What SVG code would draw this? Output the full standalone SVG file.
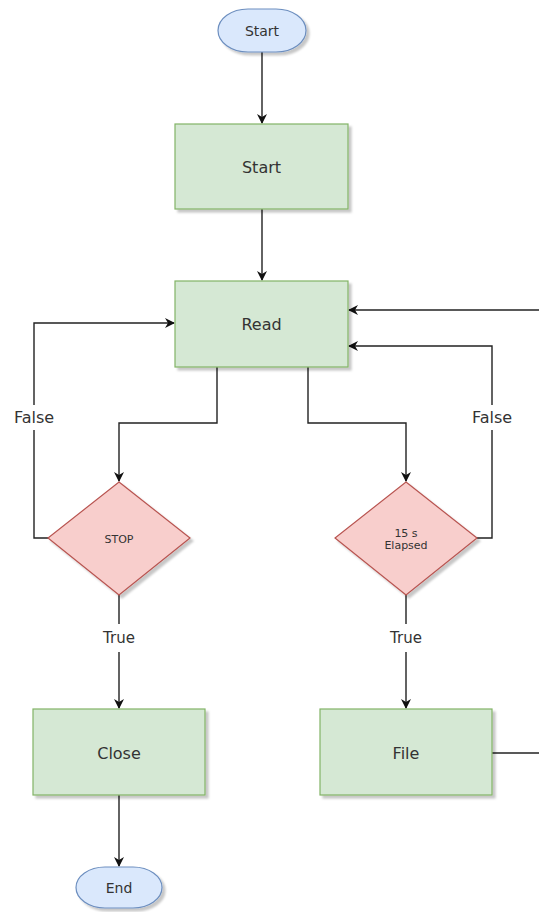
<svg xmlns="http://www.w3.org/2000/svg" width="539" height="912" viewBox="0 0 539 912">
<defs>
<filter id="sh" x="-10%" y="-10%" width="130%" height="130%">
<feDropShadow dx="3" dy="3" stdDeviation="1.2" flood-color="#000" flood-opacity="0.22"/>
</filter>
<marker id="ah" viewBox="0 0 10 10" refX="9" refY="5" markerWidth="10" markerHeight="10" markerUnits="userSpaceOnUse" orient="auto">
<path d="M0,0 L10,5 L0,10 L3,5 Z" fill="#111"/>
</marker>
</defs>
<style>
.proc{fill:#d5e8d4;stroke:#82b366;stroke-width:1.2;filter:url(#sh)}
.dec{fill:#f8cecc;stroke:#b85450;stroke-width:1.2;filter:url(#sh)}
.term{fill:#dae8fc;stroke:#6c8ebf;stroke-width:1.2;filter:url(#sh)}
text{font-family:"DejaVu Sans","Liberation Sans",sans-serif;fill:#333;text-anchor:middle;dominant-baseline:central}
.big{font-size:16px}
.mid{font-size:14px}
.sm{font-size:11px}
.edge{fill:none;stroke:#222;stroke-width:1.4}
.lbl{font-size:16px}
</style>
<g id="connectors">
<path class="edge" d="M262,52 V123" marker-end="url(#ah)"/>
<path class="edge" d="M262,209 V280" marker-end="url(#ah)"/>
<path class="edge" d="M217,367 V423 H119 V481" marker-end="url(#ah)"/>
<path class="edge" d="M308,367 V423 H406 V481" marker-end="url(#ah)"/>
<path class="edge" d="M48,538 H34 V430 M34,405 V323 H174" marker-end="url(#ah)"/>
<path class="edge" d="M477,538 H492 V430 M492,405 V346 H349" marker-end="url(#ah)"/>
<path class="edge" d="M119,595 V624 M119,652 V708" marker-end="url(#ah)"/>
<path class="edge" d="M406,595 V624 M406,652 V708" marker-end="url(#ah)"/>
<path class="edge" d="M119,795 V866" marker-end="url(#ah)"/>
<path class="edge" d="M539,310 H349" marker-end="url(#ah)"/>
<path class="edge" d="M492,753 H539"/>
<text class="lbl" x="34" y="417">False</text>
<text class="lbl" x="492" y="417">False</text>
<text class="lbl" x="119" y="638" style="font-size:15px">True</text>
<text class="lbl" x="406" y="638" style="font-size:15px">True</text>
</g>
<g id="start-terminal">
<rect class="term" x="218" y="9" width="88" height="43" rx="30" ry="21.5"/>
<text class="mid" x="262" y="31">Start</text>
</g>
<g id="start-box">
<rect class="proc" x="175" y="124" width="173" height="85"/>
<text class="big" x="261.5" y="167">Start</text>
</g>
<g id="read-box">
<rect class="proc" x="175" y="281" width="173" height="86"/>
<text class="big" x="261.5" y="324">Read</text>
</g>
<g id="stop-decision">
<polygon class="dec" points="119,482 190,538 119,595 48,538"/>
<text class="sm" x="119" y="539">STOP</text>
</g>
<g id="elapsed-decision">
<polygon class="dec" points="406,482 477,538 406,595 335,538"/>
<text class="sm" x="406" y="533">15 s</text>
<text class="sm" x="406" y="545">Elapsed</text>
</g>
<g id="close-box">
<rect class="proc" x="33" y="709" width="172" height="86"/>
<text class="big" x="119" y="753">Close</text>
</g>
<g id="file-box">
<rect class="proc" x="320" y="709" width="172" height="86"/>
<text class="big" x="406" y="753">File</text>
</g>
<g id="end-terminal">
<rect class="term" x="76" y="867" width="86" height="41" rx="29" ry="20.5"/>
<text class="mid" x="119" y="888">End</text>
</g>
</svg>
